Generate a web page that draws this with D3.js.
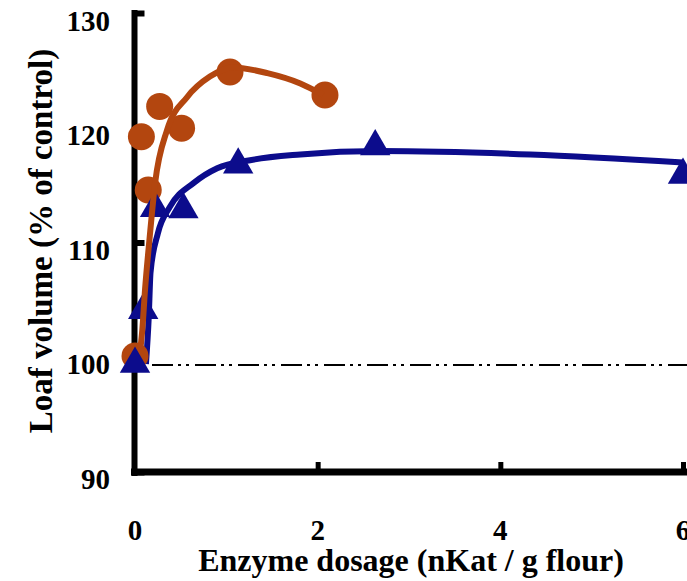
<!DOCTYPE html>
<html>
<head>
<meta charset="utf-8">
<script src="https://cdn.jsdelivr.net/npm/d3@7"></script>
<style>
  html, body { margin: 0; padding: 0; background: #fff; }
  svg { display: block; }
</style>
</head>
<body>
<svg id="chart" width="687" height="581"></svg>
<script>
// ---- data ----
const xTicks = [0, 2, 4, 6];
const yTicks = [90, 100, 110, 120, 130];

// brown series (circles)
const brownX = [0, 0.07, 0.145, 0.27, 0.51, 1.04, 2.08];
const brownY = [100.7, 119.85, 115.2, 122.5, 120.6, 125.5, 123.5];
// brown fitted curve
const brownCurveX = [0.06, 0.08, 0.11, 0.16, 0.22, 0.35, 0.57, 0.82, 1.07, 1.45, 1.81, 2.06];
const brownCurveY = [101.4, 103, 106.5, 111, 115.8, 120.4, 123.3, 125.1, 125.9, 125.4, 124.5, 123.5];

// blue series (triangles)
const blueX = [0, 0.09, 0.22, 0.53, 1.13, 2.63, 6.0];
const blueY = [100, 104.7, 113.6, 113.5, 117.4, 119.0, 116.5];
// blue fitted curve
const blueCurveX = [0.12, 0.15, 0.17, 0.25, 0.38, 0.64, 0.9, 1.26, 1.81, 2.68, 4.33, 6.0];
const blueCurveY = [100, 104, 108, 111.4, 113.7, 115.8, 117.1, 117.8, 118.3, 118.6, 118.3, 117.6];

const controlLevel = [100];

const xTitle = "Enzyme dosage (nKat / g flour)";
const yTitle = "Loaf volume (% of control)";

const brownColor = "#b3460f";
const blueColor = "#0c0c8c";

// ---- scales ----
const svg = d3.select("#chart");
const x = d3.scaleLinear().domain([0, 6]).range([135, 683]);
const y = d3.scaleLinear().domain([90, 130]).range([478.5, 20.5]);
// axis frame (drawn slightly higher, as in the original)
const yFrame = d3.scaleLinear().domain([90, 130]).range([472, 13]);

// ---- axes ----
const yAxis = d3.axisLeft(yFrame).tickValues(yTicks).tickSize(-10).tickFormat("");
const gy = svg.append("g").attr("transform", "translate(134.5,0)").call(yAxis);
gy.attr("font-family", null).attr("font-size", null);
gy.select(".domain").attr("stroke", "#000").attr("stroke-width", 6)
  .attr("d", `M0,${yFrame(130) - 3}V${yFrame(90) + 4}`);
gy.selectAll(".tick line").attr("stroke", "#000").attr("stroke-width", 6);

const xAxis = d3.axisBottom(x).tickValues(xTicks.filter(d => d > 0)).tickSize(-10).tickFormat("");
const gx = svg.append("g").attr("transform", `translate(0,${yFrame(90)})`).call(xAxis);
gx.attr("font-family", null).attr("font-size", null);
gx.select(".domain").attr("stroke", "#000").attr("stroke-width", 7)
  .attr("d", `M${x(0) - 4},0H${x(6) + 10}`);
gx.selectAll(".tick line").attr("stroke", "#000").attr("stroke-width", 5);

// tick labels
svg.selectAll("text.ylab").data(yTicks).join("text").attr("class", "ylab")
  .attr("x", 110).attr("y", d => y(d) + 10)
  .attr("text-anchor", "end").attr("font-size", 29).attr("font-weight", "bold")
  .style("font-family", "'Liberation Serif'")
  .text(d => d);
svg.selectAll("text.xlab").data(xTicks).join("text").attr("class", "xlab")
  .attr("x", d => x(d)).attr("y", 540)
  .attr("text-anchor", "middle").attr("font-size", 29).attr("font-weight", "bold")
  .style("font-family", "'Liberation Serif'")
  .text(d => d);

// titles
svg.append("text").attr("x", 411).attr("y", 571)
  .attr("text-anchor", "middle").attr("font-size", 32).attr("font-weight", "bold")
  .style("font-family", "'Liberation Serif'")
  .text(xTitle);
svg.append("text").attr("transform", "translate(52,241) rotate(-90)")
  .attr("text-anchor", "middle").attr("font-size", 33).attr("font-weight", "bold")
  .style("font-family", "'Liberation Serif'")
  .text(yTitle);

// control line (long dash - dot - dot)
svg.append("g").selectAll("line").data(controlLevel).join("line")
  .attr("x1", 152).attr("x2", 687)
  .attr("y1", d => y(d) + 1).attr("y2", d => y(d) + 1)
  .attr("stroke", "#000").attr("stroke-width", 2)
  .attr("stroke-dasharray", "21,5,3,5,3,6");

// ---- curves & markers ----
const line = d3.line().x(d => x(d[0])).y(d => y(d[1])).curve(d3.curveMonotoneX);
svg.append("path").datum(blueCurveX.map((d, i) => [d, blueCurveY[i]]))
  .attr("d", line).attr("fill", "none").attr("stroke", blueColor).attr("stroke-width", 6);

svg.append("g").selectAll("circle").data(brownX.map((d, i) => [d, brownY[i]])).join("circle")
  .attr("cx", d => x(d[0])).attr("cy", d => y(d[1])).attr("r", 13.5)
  .attr("fill", brownColor);

const tri = d3.symbol().type(d3.symbolTriangle).size(400);
svg.append("g").selectAll("path").data(blueX.map((d, i) => [d, blueY[i]])).join("path")
  .attr("transform", d => `translate(${x(d[0])},${y(d[1])})`)
  .attr("d", tri).attr("fill", blueColor);

svg.append("path").datum(brownCurveX.map((d, i) => [d, brownCurveY[i]]))
  .attr("d", line).attr("fill", "none").attr("stroke", brownColor).attr("stroke-width", 6);
</script>
</body>
</html>
